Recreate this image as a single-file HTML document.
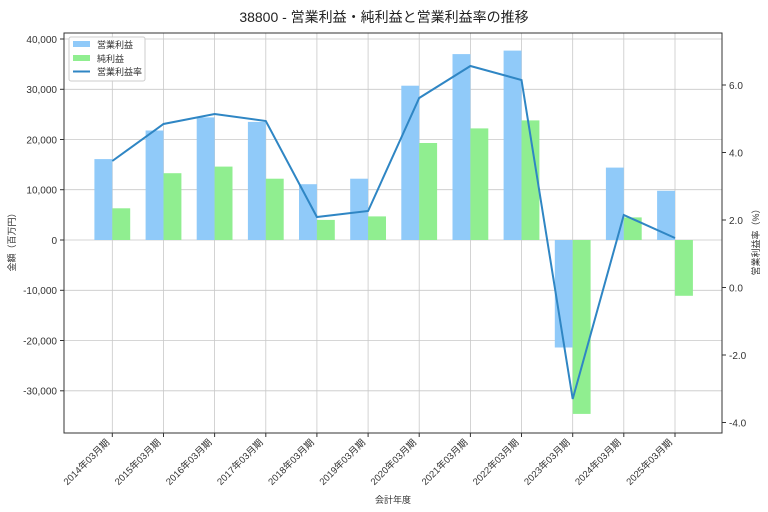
<!DOCTYPE html>
<html><head><meta charset="utf-8"><style>
body{margin:0;background:#fff}
svg{display:block;font-family:"Liberation Sans","Noto Sans CJK JP",sans-serif}
</style></head><body>
<svg width="768" height="512" viewBox="0 0 768 512">
<rect width="768" height="512" fill="#fff"/>
<text x="384" y="22" font-size="14" text-anchor="middle" fill="#222">38800 - 営業利益・純利益と営業利益率の推移</text>
<g stroke="#c8c8c8" stroke-width="0.8">
<line x1="64" x2="722" y1="39" y2="39"/><line x1="64" x2="722" y1="89.3" y2="89.3"/><line x1="64" x2="722" y1="139.5" y2="139.5"/><line x1="64" x2="722" y1="189.7" y2="189.7"/><line x1="64" x2="722" y1="240" y2="240"/><line x1="64" x2="722" y1="290.3" y2="290.3"/><line x1="64" x2="722" y1="340.5" y2="340.5"/><line x1="64" x2="722" y1="390.8" y2="390.8"/>
<line x1="112.3" x2="112.3" y1="33" y2="433"/><line x1="163.5" x2="163.5" y1="33" y2="433"/><line x1="214.6" x2="214.6" y1="33" y2="433"/><line x1="265.8" x2="265.8" y1="33" y2="433"/><line x1="316.9" x2="316.9" y1="33" y2="433"/><line x1="368.1" x2="368.1" y1="33" y2="433"/><line x1="419.2" x2="419.2" y1="33" y2="433"/><line x1="470.4" x2="470.4" y1="33" y2="433"/><line x1="521.5" x2="521.5" y1="33" y2="433"/><line x1="572.7" x2="572.7" y1="33" y2="433"/><line x1="623.8" x2="623.8" y1="33" y2="433"/><line x1="675" x2="675" y1="33" y2="433"/>
</g>
<g fill="#90caf9">
<rect x="94.4" y="159.1" width="17.9" height="80.9"/><rect x="145.6" y="130.5" width="17.9" height="109.5"/><rect x="196.7" y="117.4" width="17.9" height="122.6"/><rect x="247.9" y="121.9" width="17.9" height="118.1"/><rect x="299" y="184.2" width="17.9" height="55.8"/><rect x="350.2" y="178.7" width="17.9" height="61.3"/><rect x="401.3" y="85.7" width="17.9" height="154.3"/><rect x="452.5" y="54.1" width="17.9" height="185.9"/><rect x="503.6" y="50.6" width="17.9" height="189.4"/><rect x="554.8" y="240" width="17.9" height="107.5"/><rect x="605.9" y="167.6" width="17.9" height="72.4"/><rect x="657.1" y="190.8" width="17.9" height="49.2"/>
</g>
<g fill="#90ee90">
<rect x="112.3" y="208.3" width="17.9" height="31.7"/><rect x="163.5" y="173.2" width="17.9" height="66.8"/><rect x="214.6" y="166.6" width="17.9" height="73.4"/><rect x="265.8" y="178.7" width="17.9" height="61.3"/><rect x="316.9" y="219.9" width="17.9" height="20.1"/><rect x="368.1" y="216.4" width="17.9" height="23.6"/><rect x="419.2" y="143" width="17.9" height="97"/><rect x="470.4" y="128.4" width="17.9" height="111.6"/><rect x="521.5" y="120.4" width="17.9" height="119.6"/><rect x="572.7" y="240" width="17.9" height="173.9"/><rect x="623.8" y="217.4" width="17.9" height="22.6"/><rect x="675" y="240" width="17.9" height="55.8"/>
</g>
<polyline fill="none" stroke="#2f86c4" stroke-width="2" points="112.3,161 163.5,124 214.6,114 265.8,121 316.9,217 368.1,211 419.2,98 470.4,66 521.5,80 572.7,399 623.8,215 675,238"/>
<rect x="64" y="33" width="658" height="400" fill="none" stroke="#333" stroke-width="1"/>
<g font-size="10" fill="#333" text-anchor="end">
<text x="57" y="43">40,000</text><text x="57" y="93">30,000</text><text x="57" y="143.5">20,000</text><text x="57" y="193.5">10,000</text><text x="57" y="244">0</text><text x="57" y="294">-10,000</text><text x="57" y="344.5">-20,000</text><text x="57" y="394.5">-30,000</text>
</g>
<g stroke="#333"><line x1="60" x2="64" y1="39" y2="39"/><line x1="60" x2="64" y1="89.3" y2="89.3"/><line x1="60" x2="64" y1="139.5" y2="139.5"/><line x1="60" x2="64" y1="189.7" y2="189.7"/><line x1="60" x2="64" y1="240" y2="240"/><line x1="60" x2="64" y1="290.3" y2="290.3"/><line x1="60" x2="64" y1="340.5" y2="340.5"/><line x1="60" x2="64" y1="390.8" y2="390.8"/>
<line x1="722" x2="726" y1="85" y2="85"/><line x1="722" x2="726" y1="152.5" y2="152.5"/><line x1="722" x2="726" y1="220" y2="220"/><line x1="722" x2="726" y1="287.5" y2="287.5"/><line x1="722" x2="726" y1="355" y2="355"/><line x1="722" x2="726" y1="422.5" y2="422.5"/></g>
<g font-size="10" fill="#333">
<text x="729" y="89">6.0</text><text x="729" y="156.5">4.0</text><text x="729" y="224">2.0</text><text x="729" y="291.5">0.0</text><text x="729" y="359">-2.0</text><text x="729" y="426.5">-4.0</text>
</g>
<text transform="translate(15,240) rotate(-90)" font-size="9" text-anchor="middle" fill="#333">金額（百万円）</text>
<text transform="translate(759,240) rotate(-90)" font-size="9" text-anchor="middle" fill="#333">営業利益率（%）</text>
<text x="393" y="503" font-size="9" text-anchor="middle" fill="#333">会計年度</text>
<g font-size="9.5" fill="#333" text-anchor="end">
<text transform="translate(110,443) rotate(-45)">2014年03月期</text><text transform="translate(161.2,443) rotate(-45)">2015年03月期</text><text transform="translate(212.3,443) rotate(-45)">2016年03月期</text><text transform="translate(263.5,443) rotate(-45)">2017年03月期</text><text transform="translate(314.6,443) rotate(-45)">2018年03月期</text><text transform="translate(365.8,443) rotate(-45)">2019年03月期</text><text transform="translate(416.9,443) rotate(-45)">2020年03月期</text><text transform="translate(468.1,443) rotate(-45)">2021年03月期</text><text transform="translate(519.2,443) rotate(-45)">2022年03月期</text><text transform="translate(570.4,443) rotate(-45)">2023年03月期</text><text transform="translate(621.5,443) rotate(-45)">2024年03月期</text><text transform="translate(672.7,443) rotate(-45)">2025年03月期</text>
</g>
<g stroke="#333"><line x1="112.3" x2="112.3" y1="433" y2="437"/><line x1="163.5" x2="163.5" y1="433" y2="437"/><line x1="214.6" x2="214.6" y1="433" y2="437"/><line x1="265.8" x2="265.8" y1="433" y2="437"/><line x1="316.9" x2="316.9" y1="433" y2="437"/><line x1="368.1" x2="368.1" y1="433" y2="437"/><line x1="419.2" x2="419.2" y1="433" y2="437"/><line x1="470.4" x2="470.4" y1="433" y2="437"/><line x1="521.5" x2="521.5" y1="433" y2="437"/><line x1="572.7" x2="572.7" y1="433" y2="437"/><line x1="623.8" x2="623.8" y1="433" y2="437"/><line x1="675" x2="675" y1="433" y2="437"/></g>
<rect x="69" y="37" width="76" height="44" fill="#fff" fill-opacity="0.85" stroke="#ccc" rx="2"/>
<rect x="73" y="41" width="17" height="6" fill="#90caf9"/><text x="97" y="48" font-size="9" fill="#333">営業利益</text>
<rect x="73" y="55" width="17" height="6" fill="#90ee90"/><text x="97" y="62" font-size="9" fill="#333">純利益</text>
<line x1="73" x2="90" y1="71.5" y2="71.5" stroke="#2f86c4" stroke-width="2"/><text x="97" y="75" font-size="9" fill="#333">営業利益率</text>
</svg>
</body></html>
